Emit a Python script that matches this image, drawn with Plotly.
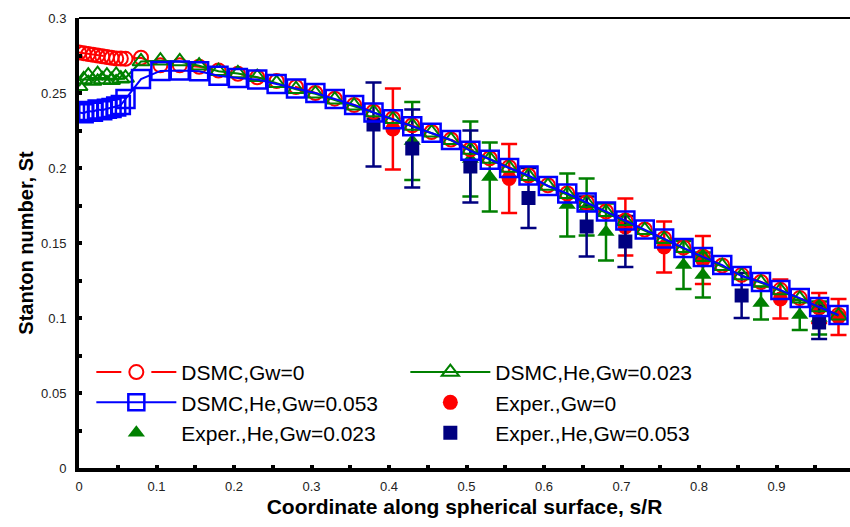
import plotly.graph_objects as go

# ---- DSMC surface distributions (s/R vs Stanton number) ----
s_dsmc = [0.0, 0.006, 0.012, 0.018, 0.024, 0.030, 0.036, 0.042, 0.048, 0.054, 0.060,
          0.08, 0.105, 0.13, 0.155, 0.18, 0.205, 0.23, 0.255, 0.28, 0.305, 0.33, 0.355,
          0.38, 0.405, 0.43, 0.455, 0.48, 0.505, 0.53, 0.555, 0.58, 0.605, 0.63, 0.655,
          0.68, 0.705, 0.73, 0.755, 0.78, 0.805, 0.83, 0.855, 0.88, 0.905, 0.93, 0.955, 0.98]

st_dsmc_gw0 = [0.2770, 0.2765, 0.2760, 0.2755, 0.2750, 0.2745, 0.2740, 0.2735, 0.2730, 0.2730, 0.2728,
               0.2735, 0.2685, 0.2685, 0.2675, 0.2650, 0.2628, 0.2605, 0.2580, 0.2540, 0.2500, 0.2462, 0.2420,
               0.2375, 0.2330, 0.2285, 0.2240, 0.2190, 0.2125, 0.2065, 0.2005, 0.1950, 0.1885, 0.1830, 0.1770,
               0.1710, 0.1650, 0.1590, 0.1530, 0.1470, 0.1410, 0.1350, 0.1288, 0.1240, 0.1188, 0.1133, 0.1075, 0.1020]

st_dsmc_he023 = [0.2545, 0.2590, 0.2615, 0.2580, 0.2625, 0.2590, 0.2615, 0.2585, 0.2620, 0.2595, 0.2600,
                 0.2710, 0.2715, 0.2710, 0.2682, 0.2645, 0.2630, 0.2605, 0.2565, 0.2525, 0.2495, 0.2455, 0.2415,
                 0.2370, 0.2325, 0.2280, 0.2235, 0.2185, 0.2120, 0.2060, 0.2000, 0.1945, 0.1880, 0.1825, 0.1765,
                 0.1705, 0.1645, 0.1585, 0.1525, 0.1465, 0.1405, 0.1345, 0.1283, 0.1235, 0.1183, 0.1128, 0.1070, 0.1015]

st_dsmc_he053 = [0.2370, 0.2365, 0.2380, 0.2375, 0.2390, 0.2385, 0.2395, 0.2400, 0.2410, 0.2420, 0.2460,
                 0.2593, 0.2647, 0.2650, 0.2645, 0.2615, 0.2600, 0.2590, 0.2560, 0.2530, 0.2500, 0.2460, 0.2420,
                 0.2370, 0.2325, 0.2278, 0.2235, 0.2187, 0.2115, 0.2055, 0.2000, 0.1950, 0.1880, 0.1830, 0.1770,
                 0.1710, 0.1650, 0.1590, 0.1530, 0.1467, 0.1407, 0.1353, 0.1280, 0.1240, 0.1187, 0.1133, 0.1073, 0.1020]

# ---- Experimental data with uncertainty ----
s_exp_gw0 = [0.405, 0.555, 0.705, 0.755, 0.805, 0.905, 0.955, 0.98]
st_exp_gw0 = [0.226, 0.193, 0.1607, 0.1473, 0.1387, 0.1127, 0.1067, 0.1007]
err_exp_gw0 = [0.027, 0.023, 0.019, 0.017, 0.016, 0.013, 0.010, 0.012]

s_exp_he023 = [0.43, 0.505, 0.53, 0.63, 0.655, 0.68, 0.78, 0.805, 0.88, 0.93, 0.955]
st_exp_he023 = [0.218, 0.206, 0.194, 0.1753, 0.174, 0.1573, 0.1353, 0.1287, 0.110, 0.102, 0.100]
err_exp_he023 = [0.026, 0.025, 0.023, 0.021, 0.019, 0.019, 0.016, 0.015, 0.011, 0.010, 0.011]

s_exp_he053 = [0.38, 0.43, 0.505, 0.58, 0.655, 0.705, 0.855, 0.955]
st_exp_he053 = [0.229, 0.213, 0.201, 0.180, 0.161, 0.151, 0.115, 0.097]
err_exp_he053 = [0.028, 0.026, 0.024, 0.020, 0.020, 0.017, 0.015, 0.011]

x_ticks = [0, 0.1, 0.2, 0.3, 0.4, 0.5, 0.6, 0.7, 0.8, 0.9]
x_tick_text = ["0", "0.1", "0.2", "0.3", "0.4", "0.5", "0.6", "0.7", "0.8", "0.9"]
y_ticks = [0, 0.05, 0.1, 0.15, 0.2, 0.25, 0.3]
y_tick_text = ["0", "0.05", "0.1", "0.15", "0.2", "0.25", "0.3"]

RED, GREEN, BLUE, NAVY = "#ff0000", "#008000", "#0000ff", "#000080"
FONT = "Liberation Sans, Arial, sans-serif"

fig = go.Figure()


def exp_trace(x, y, err, name, color, symbol, size, rank):
    return go.Scatter(
        x=x, y=y, mode="markers", name=name, legendrank=rank,
        marker=dict(color=color, symbol=symbol, size=size, line=dict(width=0)),
        error_y=dict(type="data", array=err, visible=True, color=color,
                     thickness=2.5, width=8),
    )


# experiments first so the DSMC symbols sit on top
fig.add_trace(exp_trace(s_exp_gw0, st_exp_gw0, err_exp_gw0, "Exper.,Gw=0", RED, "circle", 15, 4))
fig.add_trace(exp_trace(s_exp_he023, st_exp_he023, err_exp_he023, "Exper.,He,Gw=0.023", GREEN, "triangle-up", 15, 5))
fig.add_trace(exp_trace(s_exp_he053, st_exp_he053, err_exp_he053, "Exper.,He,Gw=0.053", NAVY, "square", 14, 6))

fig.add_trace(go.Scatter(
    x=s_dsmc, y=st_dsmc_gw0, mode="lines+markers", name="DSMC,Gw=0", legendrank=1,
    line=dict(color=RED, width=2, dash="25px,30px"),
    marker=dict(symbol="circle-open", size=14, color=RED, line=dict(width=2, color=RED)),
))
fig.add_trace(go.Scatter(
    x=s_dsmc, y=st_dsmc_he023, mode="lines+markers", name="DSMC,He,Gw=0.023", legendrank=2,
    line=dict(color=GREEN, width=2),
    marker=dict(symbol="triangle-up-open", size=15, color=GREEN, line=dict(width=2, color=GREEN)),
))
fig.add_trace(go.Scatter(
    x=s_dsmc, y=st_dsmc_he053, mode="lines+markers", name="DSMC,He,Gw=0.053", legendrank=3,
    line=dict(color=BLUE, width=2),
    marker=dict(symbol="square-open", size=18, color=BLUE, line=dict(width=2.5, color=BLUE)),
))

axis_common = dict(
    showgrid=False, zeroline=False, showline=True, linecolor="black", linewidth=4,
    ticks="inside", ticklen=3, tickwidth=4, tickcolor="black",
    tickfont=dict(family=FONT, size=13, color="#222222"),
)

fig.update_xaxes(
    range=[0, 771 / 775], tickvals=x_ticks, ticktext=x_tick_text,
    minor=dict(dtick=0.05, ticks="inside", ticklen=3, tickwidth=4, tickcolor="black"),
    title=dict(text="<b>Coordinate along spherical surface, s/R</b>",
               font=dict(family=FONT, size=21, color="black"), standoff=8),
    ticklabelstandoff=3,
    **axis_common,
)
fig.update_yaxes(
    range=[0, 0.3], tickvals=y_ticks, ticktext=y_tick_text,
    minor=dict(dtick=0.025, ticks="inside", ticklen=3, tickwidth=4, tickcolor="black"),
    title=dict(text="<b>Stanton number, St</b>",
               font=dict(family=FONT, size=20, color="black"), standoff=3),
    ticklabelstandoff=6,
    **axis_common,
)

# top frame line (the right side runs off the page)
fig.add_shape(type="line", xref="paper", yref="paper", x0=0, x1=1.02, y0=1, y1=1,
              line=dict(color="black", width=2), layer="above")
# tick label for s/R = 1, just beyond the visible edge
fig.add_annotation(text="1", xref="paper", yref="paper", x=775 / 771, y=0, yshift=-20,
                   showarrow=False, font=dict(family=FONT, size=13, color="#222222"),
                   xanchor="center", yanchor="middle")

fig.update_layout(
    width=850, height=527,
    margin=dict(l=79, r=0, t=18, b=59),
    paper_bgcolor="white", plot_bgcolor="white",
    font=dict(family=FONT, color="black"),
    legend=dict(
        orientation="h", x=0.016, y=0.258, xanchor="left", yanchor="top",
        bgcolor="rgba(0,0,0,0)", font=dict(family=FONT, size=21, color="black"),
        itemwidth=80, entrywidth=219, entrywidthmode="pixels", traceorder="normal",
        tracegroupgap=0,
    ),
    showlegend=True,
)

fig.write_html("out.html")
